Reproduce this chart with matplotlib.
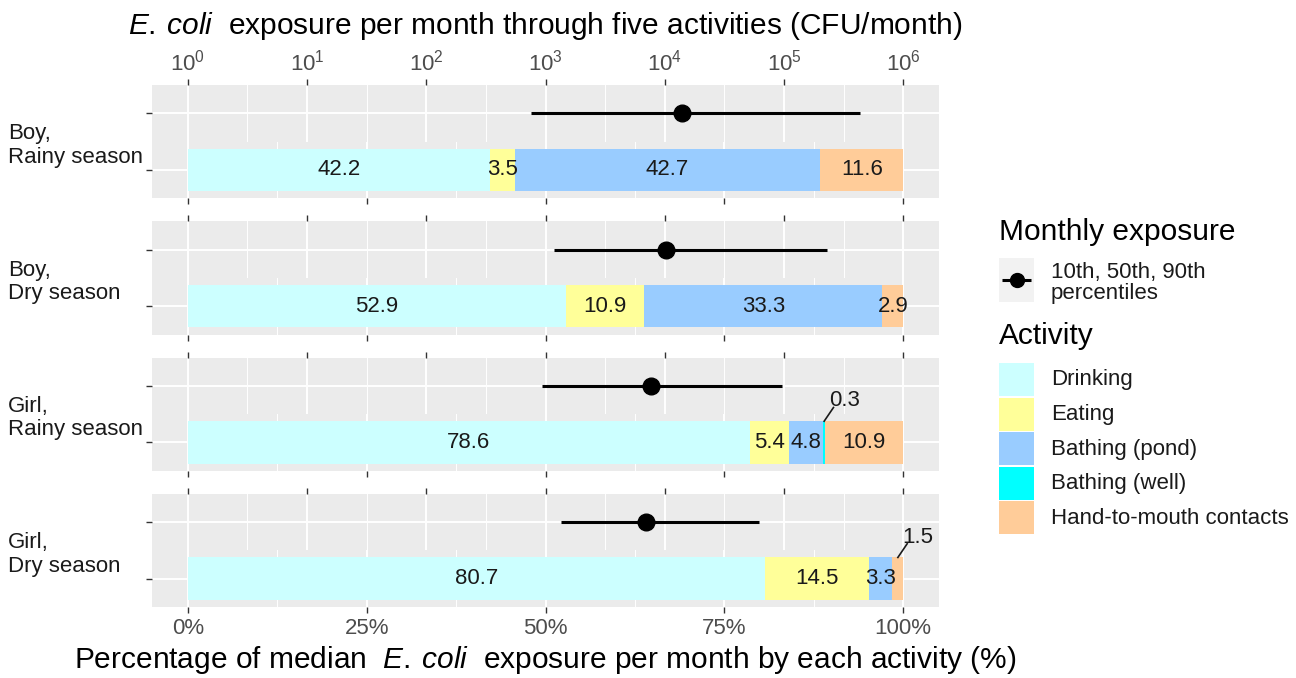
import matplotlib
matplotlib.use('Agg')
import matplotlib.pyplot as plt
from matplotlib.patches import Rectangle
from matplotlib.ticker import FixedLocator, NullFormatter

plt.rcParams['font.family'] = ['Liberation Sans', 'DejaVu Sans']
plt.rcParams['mathtext.fontset'] = 'custom'
plt.rcParams['mathtext.rm'] = 'Liberation Sans'
plt.rcParams['mathtext.it'] = 'Liberation Sans:italic'

# ---------------- data ----------------
groups = ['Boy,\nRainy season', 'Boy,\nDry season', 'Girl,\nRainy season', 'Girl,\nDry season']
activities = ['Drinking', 'Eating', 'Bathing (pond)', 'Bathing (well)', 'Hand-to-mouth contacts']
colors = ['#CCFFFF', '#FFFF99', '#99CCFF', '#00FFFF', '#FFCC99']
drinking = [42.2, 52.9, 78.6, 80.7]
eating = [3.5, 10.9, 5.4, 14.5]
bathing_pond = [42.7, 33.3, 4.8, 3.3]
bathing_well = [0.0, 0.0, 0.3, 0.0]
hand_to_mouth = [11.6, 2.9, 10.9, 1.5]
p10 = [760, 1170, 930, 1350]
p50 = [14000, 10200, 7600, 6900]
p90 = [436000, 229000, 95500, 61700]
log_ticks = [1, 10, 100, 1000, 10000, 100000, 1000000]
log_tick_labels = ['$10^{0}$', '$10^{1}$', '$10^{2}$', '$10^{3}$', '$10^{4}$', '$10^{5}$', '$10^{6}$']
pct_ticks = [0, 25, 50, 75, 100]
pct_tick_labels = ['0%', '25%', '50%', '75%', '100%']

series = [drinking, eating, bathing_pond, bathing_well, hand_to_mouth]

# ---------------- layout ----------------
W, H = 1296, 678
fig = plt.figure(figsize=(W / 100, H / 100), dpi=100)
fig.patch.set_facecolor('white')

PX_L, PX_R = 152, 939
TOP, BOT, GAP = 85, 607, 23
fh = (BOT - TOP - 3 * GAP) / 4.0

def add_ax(x0, y0, x1, y1, **kw):
    return fig.add_axes([x0 / W, 1 - y1 / H, (x1 - x0) / W, (y1 - y0) / H], **kw)

PANEL_BG = '#EBEBEB'
TICK_C = '#333333'
LAB_C = '#4D4D4D'
FS = 16
TFS = 21.5

overlay = fig.add_axes([0, 0, 1, 1], zorder=-5)
overlay.set_xlim(0, W)
overlay.set_ylim(H, 0)
overlay.axis('off')

for i in range(4):
    ftop = TOP + i * (fh + GAP)
    fmid = ftop + fh / 2
    fbot = ftop + fh

    # ---- upper: monthly exposure (log axis) ----
    au = add_ax(PX_L, ftop, PX_R, fmid)
    au.set_facecolor(PANEL_BG)
    au.set_xscale('log')
    au.set_xlim(10 ** -0.3, 10 ** 6.3)
    au.set_ylim(0.4, 1.6)
    au.xaxis.set_major_locator(FixedLocator(log_ticks))
    au.xaxis.set_minor_locator(FixedLocator([10 ** (k + 0.5) for k in range(-1, 7)]))
    au.xaxis.set_minor_formatter(NullFormatter())
    au.xaxis.tick_top()
    if i == 0:
        au.set_xticklabels(log_tick_labels)
    else:
        au.set_xticklabels([])
    au.set_yticks([1])
    au.set_yticklabels([])
    au.set_axisbelow(True)
    au.grid(which='major', color='white', lw=1.4)
    au.grid(which='minor', axis='x', color='white', lw=0.7)
    au.tick_params(axis='x', which='major', length=4, width=1, color=TICK_C,
                   labelsize=FS, labelcolor=LAB_C, pad=3)
    au.tick_params(axis='x', which='minor', length=0)
    au.tick_params(axis='y', length=4, width=1, color=TICK_C)
    for s in au.spines.values():
        s.set_visible(False)
    au.plot([p10[i], p90[i]], [1, 1], color='black', lw=2.2, solid_capstyle='butt', zorder=3)
    au.plot([p50[i]], [1], 'o', color='black', ms=12, zorder=4)

    # ---- lower: percentage stacked bar ----
    al = add_ax(PX_L, fmid, PX_R, fbot)
    al.set_facecolor(PANEL_BG)
    al.set_xlim(-5, 105)
    al.set_ylim(0.4, 1.6)
    al.set_xticks(pct_ticks)
    al.xaxis.set_minor_locator(FixedLocator([12.5, 37.5, 62.5, 87.5]))
    if i == 3:
        al.set_xticklabels(pct_tick_labels)
    else:
        al.set_xticklabels([])
    al.set_yticks([1])
    al.set_yticklabels([])
    al.set_axisbelow(True)
    al.grid(which='major', color='white', lw=1.4)
    al.grid(which='minor', axis='x', color='white', lw=0.7)
    al.tick_params(axis='x', which='major', length=4, width=1, color=TICK_C,
                   labelsize=FS, labelcolor=LAB_C, pad=4)
    al.tick_params(axis='x', which='minor', length=0)
    al.tick_params(axis='y', length=4, width=1, color=TICK_C)
    for s in al.spines.values():
        s.set_visible(False)

    left = 0.0
    for k, ser in enumerate(series):
        v = ser[i]
        if v > 0:
            al.barh(1, v, left=left, height=0.9, color=colors[k], edgecolor='none', zorder=2)
            c = left + v / 2
            if v >= 2:
                al.text(c, 1, f'{v:.1f}', ha='center', va='center', fontsize=FS,
                        color='#1A1A1A', zorder=5)
            else:
                al.plot([c, c + 1.3], [1.45, 1.74], color='#1A1A1A', lw=1.2,
                        clip_on=False, zorder=6)
                al.text(c + 2.8, 1.88, f'{v:.1f}', ha='center', va='center', fontsize=FS,
                        color='#1A1A1A', clip_on=False, zorder=6)
        left += v

    # facet label
    overlay.text(8, ftop + fh / 2 + 4, groups[i], ha='left', va='center', fontsize=FS,
                 color='#1A1A1A', linespacing=1.15)

# axis titles
cx = (PX_L + PX_R) / 2
overlay.text(cx, 26, r'$\mathit{E.\:coli}$  exposure per month through five activities (CFU/month)',
             ha='center', va='center', fontsize=TFS, color='black')
overlay.text(cx, 660, r'Percentage of median  $\mathit{E.\:coli}$  exposure per month by each activity (%)',
             ha='center', va='center', fontsize=TFS, color='black')

# ---------------- legend ----------------
LX0, LX1 = 999, 1034
TX = 1051
overlay.text(LX0, 232, 'Monthly exposure', ha='left', va='center', fontsize=TFS, color='black')
overlay.add_patch(Rectangle((LX0, 258), LX1 - LX0, 44, facecolor='#F2F2F2', edgecolor='none'))
overlay.plot([LX0 + 3, LX1 - 3], [280, 280], color='black', lw=2.2, solid_capstyle='butt')
overlay.plot([(LX0 + LX1) / 2], [280], 'o', color='black', ms=10)
overlay.text(TX, 283, '10th, 50th, 90th\npercentiles', ha='left', va='center', fontsize=FS,
             color='#1A1A1A', linespacing=0.95)
overlay.text(LX0, 336, 'Activity', ha='left', va='center', fontsize=TFS, color='black')
for k, name in enumerate(activities):
    y0 = 363 + k * 34.6
    overlay.add_patch(Rectangle((LX0, y0), LX1 - LX0, 33, facecolor=colors[k], edgecolor='none'))
    overlay.text(TX, y0 + 17, name, ha='left', va='center', fontsize=FS, color='#1A1A1A')

fig.savefig('out.png', dpi=100)
